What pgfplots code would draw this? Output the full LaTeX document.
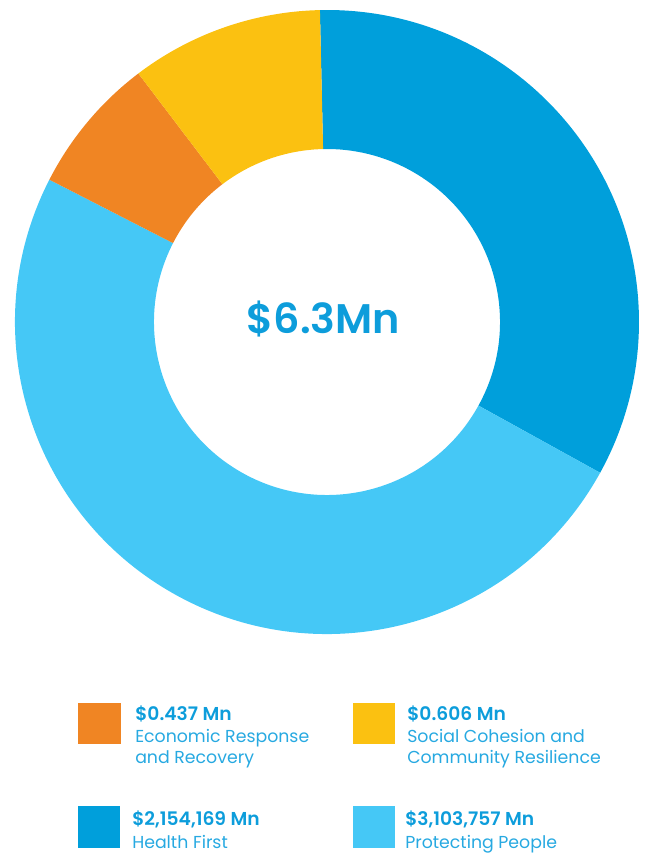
\documentclass[border=0pt]{standalone}
\usepackage{pgfplots}
\pgfplotsset{compat=1.18}
\usepackage{fontspec}
\setmainfont{Poppins}[BoldFont={Poppins SemiBold}]
\definecolor{ecorange}{HTML}{F08523}
\definecolor{scyellow}{HTML}{FBC111}
\definecolor{hfblue}{HTML}{009FDB}
\definecolor{ppblue}{HTML}{45C8F6}
\definecolor{valtext}{HTML}{0D9DDB}
\definecolor{labtext}{HTML}{27A9E1}

% ring shares in degrees
\def\vHF{120.2}
\def\vPP{178.24}
\def\vER{25.66}
\def\vSC{35.9}
\pgfmathsetmacro\aA{91.3}
\pgfmathsetmacro\aB{\aA-\vHF}
\pgfmathsetmacro\aC{\aB-\vPP}
\pgfmathsetmacro\aD{\aC-\vER}
\pgfmathsetmacro\aE{\aD-\vSC}

% outer radius 312 px, inner 173 px (1 px = 0.75pt)
\newcommand\slice[3]{%
  \fill[#3, overlay] (axis cs:327,532) ++(#1:234pt) arc[start angle=#1, end angle=#2, radius=234pt]
    -- ++(#2:-104.25pt) arc[start angle=#2, end angle=#1, radius=129.75pt] -- cycle;}

\begin{document}
\begin{tikzpicture}
\begin{axis}[
  hide axis, x=0.75pt, y=0.75pt,
  xmin=0, xmax=644, ymin=0, ymax=854,
  scale only axis, clip=false
]
\path (axis cs:0,0) rectangle (axis cs:644,854);
\slice{\aA}{\aB}{hfblue}
\slice{\aB}{\aC}{ppblue}
\slice{\aC}{\aD}{ecorange}
\slice{\aD}{\aE}{scyellow}

\node[anchor=base, inner sep=0, text=valtext, font=\fontsize{31}{34}\selectfont\bfseries] at (axis cs:323.5,520) {\$6.3Mn};

% legend
\fill[ecorange] (axis cs:78,110) rectangle (axis cs:121,151);
\fill[scyellow] (axis cs:353,110) rectangle (axis cs:395,151);
\fill[hfblue] (axis cs:78,6) rectangle (axis cs:120,48);
\fill[ppblue] (axis cs:353,6) rectangle (axis cs:395,48);

\tikzset{val/.style={anchor=base west, inner sep=0, text=valtext, font=\fontsize{14}{16}\selectfont\bfseries},
         lab/.style={anchor=base west, inner sep=0, text=labtext, font=\fontsize{13}{15}\selectfont}}
\node[val] at (axis cs:135,133) {\$0.437 Mn};
\node[lab] at (axis cs:135,111) {Economic Response};
\node[lab] at (axis cs:135,90) {and Recovery};

\node[val] at (axis cs:407,133) {\$0.606 Mn};
\node[lab] at (axis cs:407,111) {Social Cohesion and};
\node[lab] at (axis cs:407,90) {Community Resilience};

\node[val] at (axis cs:132,28) {\$2,154,169 Mn};
\node[lab] at (axis cs:132,6) {Health First};

\node[val] at (axis cs:405,28) {\$3,103,757 Mn};
\node[lab] at (axis cs:405,6) {Protecting People};
\end{axis}
\end{tikzpicture}
\end{document}
